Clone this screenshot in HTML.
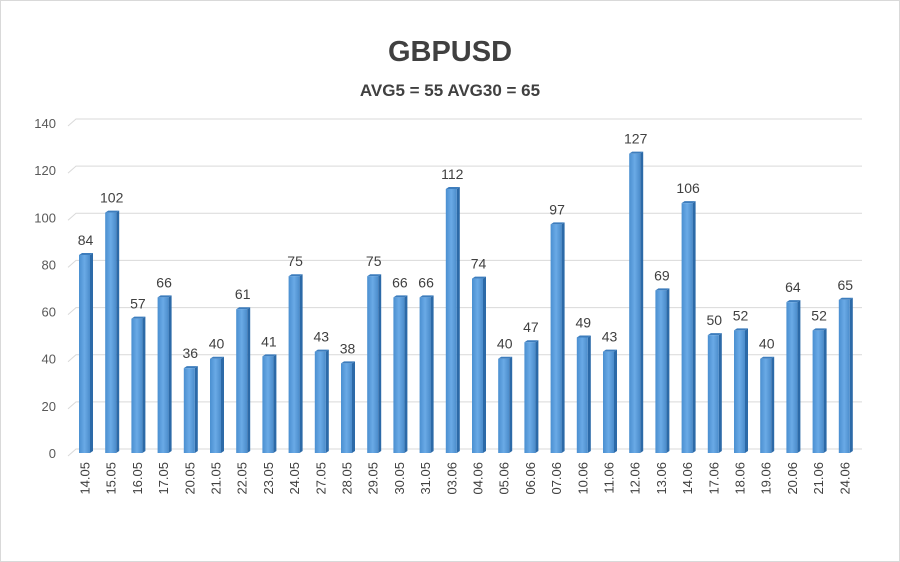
<!DOCTYPE html>
<html><head><meta charset="utf-8"><style>
body{margin:0;background:#fff;}
svg{display:block;font-family:"Liberation Sans",sans-serif;}
</style></head><body>
<svg id="c" width="900" height="562">
<defs>
<linearGradient id="fg" x1="0" x2="1" y1="0" y2="0"><stop offset="0" stop-color="#4a8fd0"/><stop offset="0.5" stop-color="#6aaae6"/><stop offset="1" stop-color="#4b8ccb"/></linearGradient>
</defs>
<rect x="0.5" y="0.5" width="899" height="561" fill="#fff" stroke="#d9d9d9"/>
<text x="450" y="61" text-anchor="middle" font-size="29" font-weight="bold" fill="#404040">GBPUSD</text>
<text x="450" y="96" text-anchor="middle" font-size="17" font-weight="bold" fill="#404040">AVG5 = 55 AVG30 = 65</text>
<g id="grid"></g><g id="bars"></g><g id="labels"></g>
</svg>
<script>
const categories=["14.05","15.05","16.05","17.05","20.05","21.05","22.05","23.05","24.05","27.05","28.05","29.05","30.05","31.05","03.06","04.06","05.06","06.06","07.06","10.06","11.06","12.06","13.06","14.06","17.06","18.06","19.06","20.06","21.06","24.06"];
const values=[84,102,57,66,36,40,61,41,75,43,38,75,66,66,112,74,40,47,97,49,43,127,69,106,50,52,40,64,52,65];
const yTicks=[0,20,40,60,80,100,120,140];
const NS="http://www.w3.org/2000/svg";
const y0=453,yTop=123,yMax=140;
const yS=v=>y0-(y0-yTop)*v/yMax;
const x0=84.5,step=26.2;
const xS=i=>x0+i*step;
function mk(t,a,p){const e=document.createElementNS(NS,t);for(const k in a)e.setAttribute(k,a[k]);p.appendChild(e);return e;}
const g=document.getElementById('grid'),b=document.getElementById('bars'),l=document.getElementById('labels');
yTicks.forEach(v=>{const y=yS(v);
 const p=mk('polyline',{points:`68,${y+3} 76,${y-4} 862,${y-4}`,fill:'none',stroke:'#d9d9d9','stroke-width':1},g);
 
 
 const t=mk('text',{x:56,y:y+5,'text-anchor':'end','font-size':13,fill:'#595959'},g);t.textContent=v;
 
 
});
values.forEach((v,i)=>{const cx=xS(i),y=yS(v),w=11;
 const side=mk('polygon',{points:`${cx+w/2},${y} ${cx+w/2+3},${y-2} ${cx+w/2+3},${y0-2} ${cx+w/2},${y0}`,fill:'#2c6aa8'},b);
 
 
 const top=mk('polygon',{points:`${cx-w/2},${y} ${cx-w/2+3},${y-2} ${cx+w/2+3},${y-2} ${cx+w/2},${y}`,fill:'#3d7dbd'},b);
 
 
 const r=mk('rect',{x:cx-w/2,y:y,width:w,height:y0-y,fill:'url(#fg)'},b);
 
 
 const t=mk('text',{x:cx+1,y:y-10,'text-anchor':'middle','font-size':14,fill:'#404040'},l);t.textContent=v;
 
 
 const c=mk('text',{transform:`translate(${cx+5},462) rotate(-90)`,'text-anchor':'end','font-size':13,fill:'#404040'},l);c.textContent=categories[i];
 
 
});
</script>
</body></html>
